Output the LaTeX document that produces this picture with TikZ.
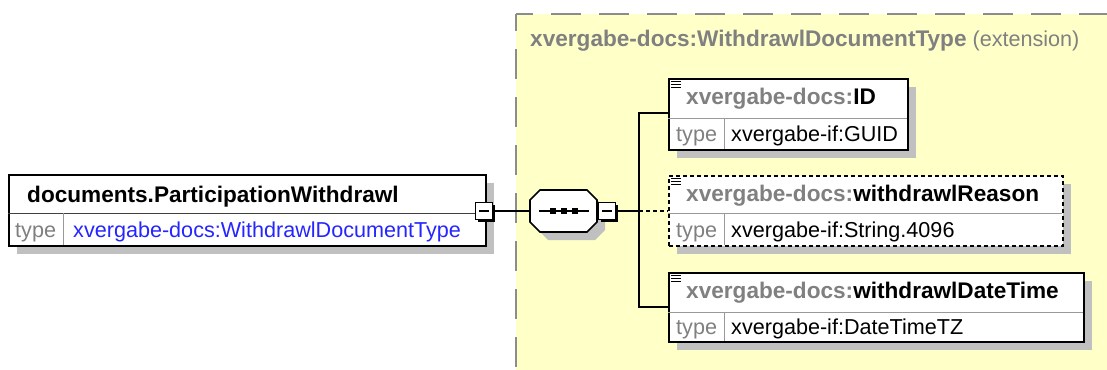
\documentclass[tikz,border=0pt]{standalone}
\usepackage{fontspec}
\setmainfont{Liberation Sans}
\usetikzlibrary{positioning,calc,shadows}

\definecolor{extfill}{HTML}{FFFFC8}
\definecolor{extline}{HTML}{8C8C8C}
\definecolor{shadowgray}{HTML}{C0C0C0}
\definecolor{prefixgray}{HTML}{808080}
\definecolor{typeblue}{HTML}{2525FF}

\newcommand{\regtext}{\fontsize{21.6}{26}\selectfont}
\newcommand{\boldtext}{\fontsize{22.6}{27}\selectfont\bfseries}

\begin{document}
\begin{tikzpicture}[
    x=1pt,
    y=-1pt,
    elembox/.style={draw=black, line width=1.6pt, fill=white, inner sep=0pt, anchor=north west,
      drop shadow={shadow xshift=8pt, shadow yshift=-8pt, fill=shadowgray, opacity=1}},
    optbox/.style={elembox, dash pattern=on 4pt off 3pt},
    expbox/.style={draw=black, line width=1.4pt, fill=white, inner sep=0pt, minimum size=17pt,
      drop shadow={shadow xshift=2.5pt, shadow yshift=-2.5pt, fill=black, opacity=1}},
    divider/.style={draw=gray!80, line width=1pt},
    conn/.style={line width=1.6pt},
    optconn/.style={conn, dash pattern=on 4pt off 3pt},
    txt/.style={inner sep=0pt, anchor=base west, font=\regtext},
    btxt/.style={inner sep=0pt, anchor=base west, font=\boldtext},
    typelab/.style={txt, text=prefixgray}
  ]
    \useasboundingbox (0,0) rectangle (1107,369);

    % extension area
    \fill[extfill] (516,14) rectangle (1130,390);
    \draw[extline, line width=2pt, dash pattern=on 30pt off 18pt, dash phase=13pt] (516,14) -- (1130,14);
    \draw[extline, line width=2pt, dash pattern=on 30pt off 18pt, dash phase=13pt] (516,14) -- (516,390);
    \node[inner sep=0pt, anchor=base west, text=prefixgray] (exttitle) at (530,47)
      {\boldtext xvergabe-docs:WithdrawlDocumentType\regtext\mdseries{} (extension)};

    % connector anchors
    \coordinate (fork) at (639,211);
    \coordinate (id-in) at (668,113);
    \coordinate (reason-in) at (668,211);
    \coordinate (dt-in) at (668,307);

    % sequence compositor
    \node[inner sep=0pt, minimum width=67pt, minimum height=42pt] (seq) at (563.5,211) {};
    \fill[shadowgray, shift={(8,8)}] (540,190) -- (587,190) -- (597,200) -- (597,222) -- (587,232)
      -- (540,232) -- (530,222) -- (530,200) -- cycle;

    % connectors
    \draw[conn] (484,211) -- (seq.west);
    \draw[conn] (608,211) -- (fork);
    \draw[conn] (id-in) -| (fork) |- (dt-in);
    \draw[optconn] (fork) -- (reason-in);

    \draw[line width=1.6pt, fill=white] (540,190) -- (587,190) -- (597,200) -- (597,222) -- (587,232)
      -- (540,232) -- (530,222) -- (530,200) -- cycle;
    \draw[line width=1.4pt] (539,211) -- (589,211);
    \foreach \dx in {553,564,575}
      \fill (\dx-2.8,208.2) rectangle (\dx+2.8,213.8);
    \node[expbox] (seqexp) at (607,211) {};
    \draw[line width=1.4pt] ([xshift=-5pt]seqexp.center) -- ([xshift=5pt]seqexp.center);

    % documents.ParticipationWithdrawl
    \node[elembox, minimum width=477pt, minimum height=71pt] (main) at (8,174) {};
    \draw[line width=1pt, black!75] (8,213) -- (485,213);
    \draw[divider] (63,213) -- (63,245);
    \node[btxt] (mainname) at (27,202) {documents.ParticipationWithdrawl};
    \node[typelab] (maintype) at (15,237) {type};
    \node[txt, text=typeblue] (mainval) at (73,237) {xvergabe-docs:WithdrawlDocumentType};
    \node[expbox] (mainexp) at (484,211) {};
    \draw[line width=1.4pt] ([xshift=-5pt]mainexp.center) -- ([xshift=5pt]mainexp.center);

    % ID
    \node[elembox, minimum width=239pt, minimum height=71pt] (id) at (668,78) {};
    \draw[divider] (668,118) -- (907,118);
    \draw[divider] (724,118) -- (724,149);
    \node[btxt] (idname) at (686,104) {\textcolor{prefixgray}{xvergabe-docs:}ID};
    \node[typelab] (idtype) at (676,141) {type};
    \node[txt] (idval) at (731,141) {xvergabe-if:GUID};

    % withdrawlReason (optional)
    \node[optbox, minimum width=394pt, minimum height=70pt] (reason) at (668,175) {};
    \draw[divider] (668,213) -- (1062,213);
    \draw[divider] (724,213) -- (724,245);
    \node[btxt] (reasonname) at (686,201) {\textcolor{prefixgray}{xvergabe-docs:}withdrawlReason};
    \node[typelab] (reasontype) at (676,237) {type};
    \node[txt] (reasonval) at (731,237) {xvergabe-if:String.4096};

    % withdrawlDateTime
    \node[elembox, minimum width=415pt, minimum height=69pt] (dt) at (668,272) {};
    \draw[divider] (668,312) -- (1083,312);
    \draw[divider] (724,312) -- (724,341);
    \node[btxt] (dtname) at (686,298) {\textcolor{prefixgray}{xvergabe-docs:}withdrawlDateTime};
    \node[typelab] (dttype) at (676,334) {type};
    \node[txt] (dtval) at (731,334) {xvergabe-if:DateTimeTZ};

    % annotation marks
    \foreach \top in {78,175,272}
      \foreach \dy in {3,6,9}
        \draw[line width=0.9pt] (671,\top+\dy) -- (681,\top+\dy);
  \end{tikzpicture}
\end{document}
